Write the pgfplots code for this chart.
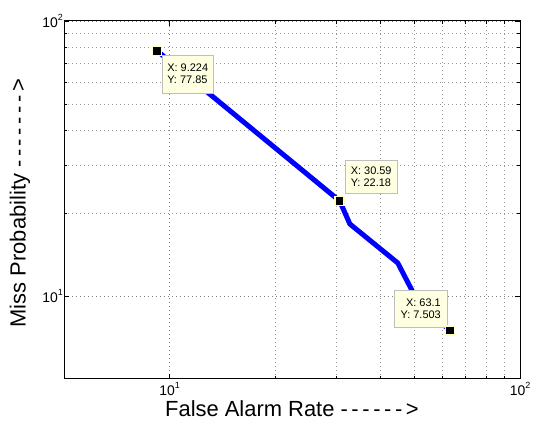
\documentclass[border=0pt]{standalone}
\usepackage{fontspec}
\setmainfont{Liberation Sans}
\usepackage{pgfplots}
\pgfplotsset{compat=1.18}
\definecolor{tipbg}{RGB}{255,255,225}
\definecolor{tipedge}{RGB}{190,190,190}
\definecolor{halo}{RGB}{255,255,200}
% wide dash as matlab draws it
\newcommand{\dsh}{-\kern3.6bp\relax}
\newcommand{\pw}[1]{10\raisebox{0.5em}{\fontsize{9}{9}\selectfont #1}}
\begin{document}
\begin{tikzpicture}
\path[use as bounding box] (-64bp,-46bp) rectangle (469bp,379bp);
\begin{axis}[
    scale only axis,
    width=456bp, height=358bp,
    xmode=log, ymode=log,
    xmin=5, xmax=100, ymin=5, ymax=100,
    xtick={10,100}, xticklabels={\pw{1},\pw{2}},
    ytick={10,100}, yticklabels={\pw{1},\pw{2}},
    tick align=inside,
    major tick length=5bp, minor tick length=3bp,
    axis line style={line width=1bp},
    tick style={black, line width=0.6bp},
    grid=both,
    major grid style={black!50, line width=0.5bp, dash pattern=on 1bp off 3bp},
    minor grid style={black!40, line width=0.5bp, dash pattern=on 1bp off 3bp},
    tick label style={font=\fontsize{14}{14}\selectfont, inner sep=1bp},
    xticklabel style={yshift=-2bp},
    label style={font=\fontsize{22}{22}\selectfont, inner sep=0pt},
    xlabel={False Alarm Rate \dsh\dsh\dsh\dsh\dsh\dsh>},
    ylabel={Miss Probability \dsh\dsh\dsh\dsh\dsh\dsh\dsh>},
    xlabel style={at={(axis description cs:0.5,-0.084)}, anchor=center},
    ylabel style={at={(axis description cs:-0.0965,0.4916)}, anchor=center, rotate=0},
]
% roc curve
\addplot[blue, line width=5bp, line join=round] coordinates {
    (9.224,77.85) (30.59,22.18) (32.7,18.3) (44.8,13.2) (51,9.6) (63.1,7.503)
};
% data tip boxes
\node[draw=tipedge, fill=tipbg, anchor=north west, align=left, inner sep=0pt,
      minimum width=51bp, minimum height=38bp, font=\fontsize{11}{12}\selectfont]
      at (rel axis cs:0.2149,0.905) {X: 9.224\\Y: 77.85};
\node[draw=tipedge, fill=tipbg, anchor=north west, align=left, inner sep=0pt,
      minimum width=52bp, minimum height=33bp, font=\fontsize{11}{12}\selectfont]
      at (rel axis cs:0.6162,0.6117) {X: 30.59\\Y: 22.18};
\node[draw=tipedge, fill=tipbg, anchor=north west, align=right, inner sep=0pt,
      minimum width=53bp, minimum height=37bp, font=\fontsize{11}{12}\selectfont]
      at (rel axis cs:0.7237,0.2486) {X: 63.1\\Y: 7.503};
% data tip markers
\addplot[only marks, mark=square*, mark size=4.5bp,
         mark options={fill=black, draw=halo, line width=1.5bp}] coordinates {
    (9.224,77.85) (30.59,22.18) (63.1,7.503)
};
\end{axis}
\end{tikzpicture}
\end{document}
